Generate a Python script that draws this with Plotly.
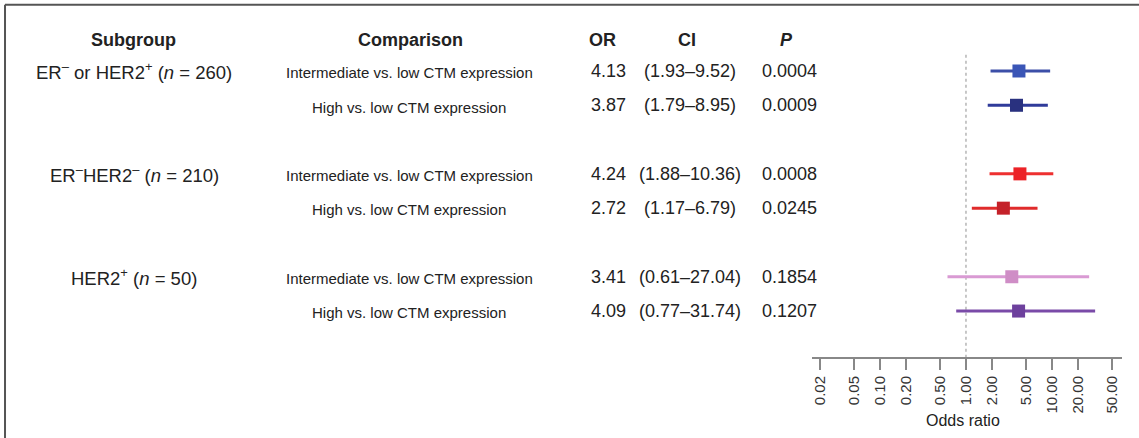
import plotly.graph_objects as go

# Subgroup-level odds ratios for CTM expression
subgroups = [
    "ER<sup>–</sup> or HER2<sup>+</sup> (<i>n</i> = 260)",
    "ER<sup>–</sup>HER2<sup>–</sup> (<i>n</i> = 210)",
    "HER2<sup>+</sup> (<i>n</i> = 50)",
]
comparisons = [
    "Intermediate vs. low CTM expression",
    "High vs. low CTM expression",
]
odds_ratio = [4.13, 3.87, 4.24, 2.72, 3.41, 4.09]
ci_low = [1.93, 1.79, 1.88, 1.17, 0.61, 0.77]
ci_high = [9.52, 8.95, 10.36, 6.79, 27.04, 31.74]
p_values = ["0.0004", "0.0009", "0.0008", "0.0245", "0.1854", "0.1207"]
tick_vals = [0.02, 0.05, 0.10, 0.20, 0.50, 1.00, 2.00, 5.00, 10.00, 20.00, 50.00]

marker_colors = ["#3a55b6", "#29317f", "#ec2227", "#c42129", "#cf8dc6", "#6d409d"]
line_colors = ["#3c4fa8", "#2f3b9a", "#ee3030", "#e02b2b", "#d99ad3", "#7a4ba8"]

FONT = "Liberation Sans, Arial, Helvetica, sans-serif"
TXT = "#222222"

# row positions: two comparisons per subgroup, one blank row between groups
rows = []
for g in range(len(subgroups)):
    for c in range(len(comparisons)):
        rows.append(g * 3 + c)

fig = go.Figure()

for i, r in enumerate(rows):
    fig.add_trace(go.Scatter(
        x=[ci_low[i], ci_high[i]], y=[r, r], mode="lines",
        line=dict(color=line_colors[i], width=3), showlegend=False, hoverinfo="skip",
    ))
    fig.add_trace(go.Scatter(
        x=[odds_ratio[i]], y=[r], mode="markers",
        marker=dict(symbol="square", size=13, color=marker_colors[i]),
        showlegend=False,
    ))

y_top = -2.07
y_axis = 8.34

# reference line at OR = 1
fig.add_shape(type="line", xref="x", yref="y", x0=1, x1=1, y0=-0.47, y1=y_axis,
              line=dict(color="#b5b5b5", width=1.5, dash="dot"), layer="below")

# frame edges
fig.add_shape(type="line", xref="paper", yref="paper", x0=0.0044, x1=1, y0=0.989, y1=0.989,
              line=dict(color="#555555", width=2))
fig.add_shape(type="line", xref="paper", yref="paper", x0=0.0044, x1=0.0044, y0=0, y1=0.989,
              line=dict(color="#555555", width=2))

W = 1139.0


def px(x):
    return x / W


anns = []
# headers
hdr_y = -0.9
for label, xc in [("Subgroup", 133), ("Comparison", 410), ("OR", 602), ("CI", 687),
                  ("<i>P</i>", 786)]:
    anns.append(dict(text="<b>" + label + "</b>", x=px(xc), y=hdr_y, xref="paper", yref="y",
                     showarrow=False, xanchor="center", yanchor="middle",
                     font=dict(family=FONT, size=18, color=TXT)))

for g, name in enumerate(subgroups):
    anns.append(dict(text=name, x=px(134), y=rows[g * 2], xref="paper", yref="y",
                     showarrow=False, xanchor="center", yanchor="middle",
                     font=dict(family=FONT, size=18.5, color=TXT)))

for i, r in enumerate(rows):
    comp = comparisons[i % len(comparisons)]
    anns.append(dict(text=comp, x=px(409), y=r + 0.05, xref="paper", yref="y",
                     showarrow=False, xanchor="center", yanchor="middle",
                     font=dict(family=FONT, size=15, color=TXT)))
    anns.append(dict(text=f"{odds_ratio[i]:.2f}", x=px(608), y=r, xref="paper", yref="y",
                     showarrow=False, xanchor="center", yanchor="middle",
                     font=dict(family=FONT, size=18, color=TXT)))
    anns.append(dict(text=f"({ci_low[i]:.2f}–{ci_high[i]:.2f})", x=px(690), y=r,
                     xref="paper", yref="y", showarrow=False, xanchor="center",
                     yanchor="middle", font=dict(family=FONT, size=18, color=TXT)))
    anns.append(dict(text=p_values[i], x=px(789), y=r, xref="paper", yref="y",
                     showarrow=False, xanchor="center", yanchor="middle",
                     font=dict(family=FONT, size=18, color=TXT)))

anns.append(dict(text="Odds ratio", x=px(963), y=1 - 420 / 438.0, xref="paper", yref="paper",
                 showarrow=False, xanchor="center", yanchor="middle",
                 font=dict(family=FONT, size=16, color=TXT)))

fig.update_layout(
    width=1139, height=438,
    margin=dict(l=0, r=0, t=0, b=0),
    paper_bgcolor="white", plot_bgcolor="white",
    annotations=anns,
    xaxis=dict(
        type="log", domain=[812 / W, 1122 / W], range=[-1.79, 1.814],
        tickvals=tick_vals, ticktext=[f"{v:.2f}" for v in tick_vals],
        tickangle=-90, ticks="outside", ticklen=11, tickwidth=2, tickcolor="#888888",
        showline=True, linecolor="#888888", linewidth=2,
        showgrid=False, zeroline=False, anchor="y",
        tickfont=dict(family=FONT, size=15, color="#333333"),
    ),
    yaxis=dict(
        domain=[1 - 357 / 438.0, 1], range=[y_axis, y_top],
        visible=False, showgrid=False, zeroline=False,
    ),
)

fig.write_html("out.html")
